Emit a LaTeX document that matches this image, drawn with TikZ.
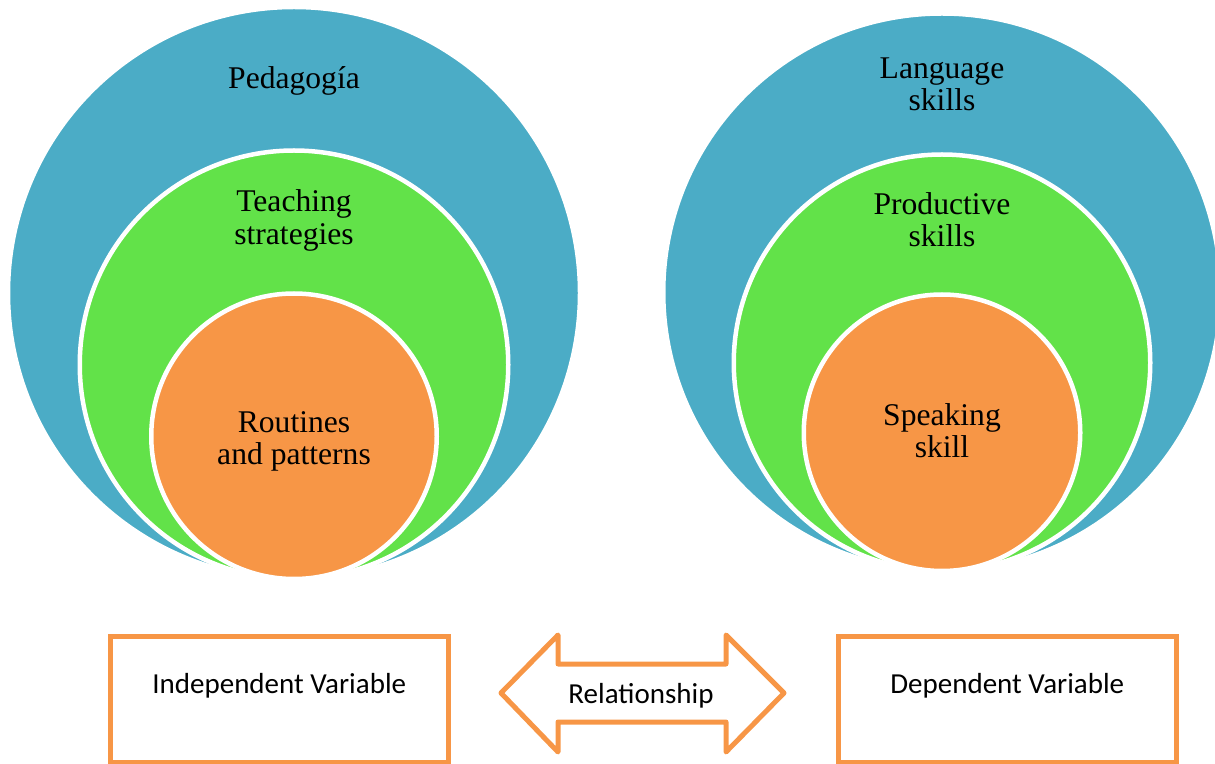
\documentclass[tikz,border=0pt]{standalone}
\usepackage{fontspec}
\setmainfont{Liberation Serif}
\newfontfamily\calfont{Carlito}
\definecolor{tblue}{RGB}{75,172,198}
\definecolor{tgreen}{RGB}{98,226,73}
\definecolor{torange}{RGB}{247,150,70}
\begin{document}
\begin{tikzpicture}[x=0.5pt,y=-0.5pt,
  ring/.style={circle, draw=white, line width=2.25pt, inner sep=0pt},
  lbl/.style={font=\fontsize{15.8}{16.3}\selectfont, align=center, inner sep=0pt, anchor=base},
  varbox/.style={draw=torange, line width=2.5pt, inner sep=0pt, minimum width=168.75pt, minimum height=62.75pt},
  sanslbl/.style={font=\calfont\fontsize{14.5}{17}\selectfont, inner sep=0pt, anchor=base},
  arrowshape/.style={draw=torange, line width=2.5pt, line join=round}]
\useasboundingbox (0,0) rectangle (1215,764);
\clip (0,0) rectangle (1215,764);
% left target
\node[ring, fill=tblue, minimum size=286pt] (pedBlue) at (294,293) {};
\node[ring, fill=tgreen, minimum size=214.25pt] (teachGreen) at (294,364.75) {};
\node[ring, fill=torange, minimum size=142.75pt] (routOrange) at (294,436.25) {};
\node[lbl] (tPed) at (294,89) {Pedagogía};
\node[lbl] (tTeach) at (294,244.6) {Teaching\\strategies};
\node[lbl] (tRout) at (294,464.6) {Routines\\and patterns};
% right target
\node[ring, fill=tblue, minimum size=278.75pt] (langBlue) at (942,292.25) {};
\node[ring, fill=tgreen, minimum size=208.25pt] (prodGreen) at (942,362.75) {};
\node[ring, fill=torange, minimum size=138.25pt] (speakOrange) at (942,432.75) {};
\node[lbl] (tLang) at (942,111) {Language\\skills};
\node[lbl] (tProd) at (942,247) {Productive\\skills};
\node[lbl] (tSpeak) at (942,458) {Speaking\\skill};
% boxes
\node[varbox] (indepBox) at (279.25,699.25) {};
\node[sanslbl] (tIndep) at (279.25,693) {Independent Variable};
\node[varbox] (depBox) at (1007.25,699.25) {};
\node[sanslbl] (tDep) at (1007.25,693) {Dependent Variable};
% double arrow
\draw[arrowshape] (501,693) -- (558,635) -- (558,664) -- (726,664) -- (726,635)
  -- (784,693) -- (726,752) -- (726,722) -- (558,722) -- (558,752) -- cycle;
\node[sanslbl] (tRel) at (641,703) {Relationship};
\end{tikzpicture}
\end{document}
